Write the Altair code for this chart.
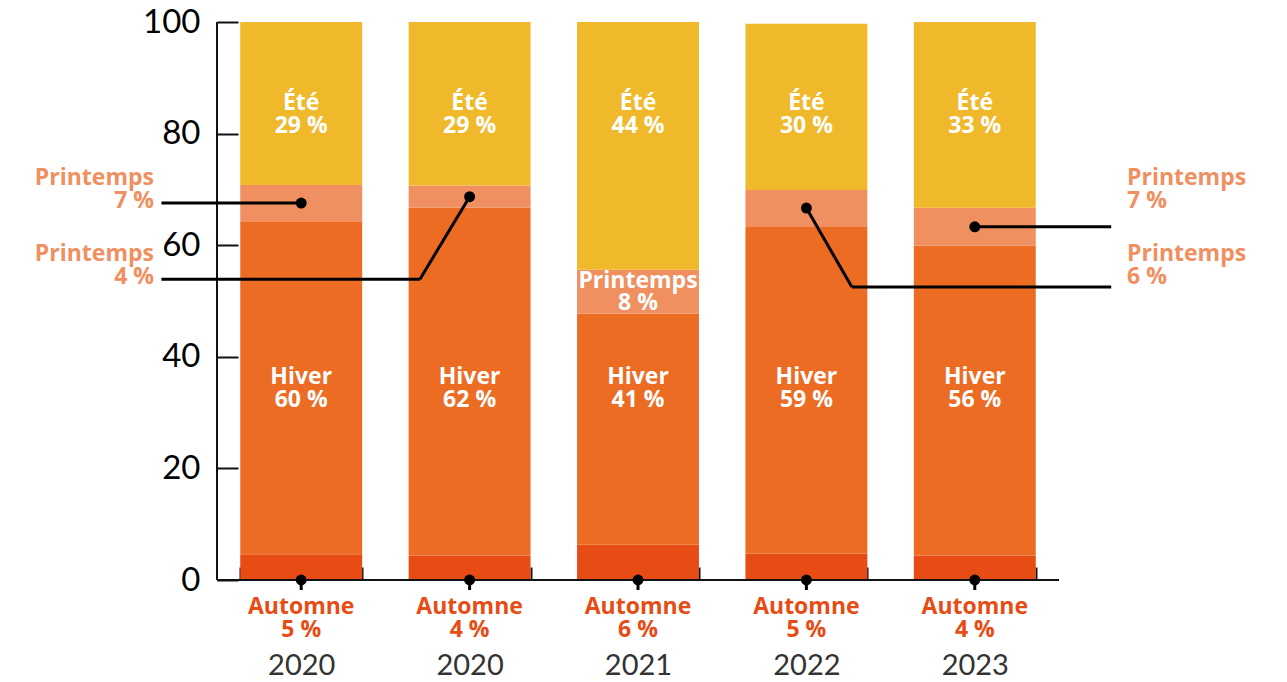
import json
import altair as alt
import pandas as pd

# ---------------- data ----------------
years = ["2020", "2020", "2021", "2022", "2023"]
seasons = ["Automne", "Hiver", "Printemps", "Été"]
automne = [4.6, 4.4, 6.3, 4.7, 4.4]
hiver = [59.7, 62.3, 41.4, 58.7, 55.5]
printemps = [6.5, 4.0, 7.9, 6.5, 6.8]
ete = [29.2, 29.3, 44.4, 29.8, 33.3]
automne_lbl = ["5 %", "4 %", "6 %", "5 %", "4 %"]
hiver_lbl = ["60 %", "62 %", "41 %", "59 %", "56 %"]
printemps_lbl = ["7 %", "4 %", "8 %", "6 %", "7 %"]
ete_lbl = ["29 %", "29 %", "44 %", "30 %", "33 %"]
y_ticks = [0, 20, 40, 60, 80, 100]

# ---------------- layout / style ----------------
W, H = 842, 558
FONT = "Lato"
BFONT = "Open Sans"
BSIZE = 23
LH = 22.5
COLORS = {"Automne": "#E64C13", "Hiver": "#EC6C24", "Printemps": "#F08F5F", "Été": "#F0B92B"}
PR_LAYOUT = {0: ("left", 0), 1: ("left", 1), 3: ("right", 1), 4: ("right", 0)}  # bar -> side,row
ROW_Y = [72.0, 58.4]              # first-line centres of outside labels (data units)
SIDE_X = {"left": -63, "right": 910}  # px
LEADER_END = {"left": -0.33, "right": 5.31}
ELBOW = {1: (1.205, 53.9), 3: (3.77, 52.5)}

n = len(years)
rows = []
for i in range(n):
    start = 0.0
    for s, vals, lbls in zip(seasons, [automne, hiver, printemps, ete],
                             [automne_lbl, hiver_lbl, printemps_lbl, ete_lbl]):
        v = vals[i]
        rows.append(dict(k=i, season=s, start=start, end=start + v, mid=start + v / 2,
                         txt=f"{s}\n{lbls[i]}"))
        start += v
df = pd.DataFrame(rows)

xenc = alt.X(
    "k:O",
    scale=alt.Scale(paddingInner=0.276, paddingOuter=0.138),
    axis=alt.Axis(title=None, labelExpr=f"{json.dumps(years)}[toNumber(datum.value)]",
                  tickBand="extent", tickSize=13, offset=-13, domain=False, labelAngle=0,
                  labelPadding=71, labelFont=FONT, labelFontSize=29, labelColor="#333333",
                  tickColor="#111111", tickWidth=2, grid=False),
)

bars = alt.Chart(df).mark_bar().encode(
    x=xenc,
    y=alt.Y("start:Q", title=None, scale=alt.Scale(domain=[0, 100], nice=False),
            axis=alt.Axis(values=y_ticks, offset=-21, tickSize=21, domain=False,
                          labelPadding=17, labelFont=FONT, labelFontSize=33,
                          labelColor="black", tickColor="#111111", tickWidth=2, grid=False)),
    y2="end:Q",
    color=alt.Color("season:N", scale=alt.Scale(domain=list(COLORS), range=list(COLORS.values())),
                    legend=None),
)

one = pd.DataFrame({"v": [0]})
xline = alt.Chart(one).mark_rule(color="#111111", strokeWidth=2).encode(
    y=alt.datum(0), x=alt.value(0), x2=alt.value(W))
yline = alt.Chart(one).mark_rule(color="#111111", strokeWidth=2).encode(
    x=alt.value(0), y=alt.datum(0), y2=alt.datum(100))

white_txt = dict(color="white", font=BFONT, fontWeight="bold", fontSize=BSIZE,
                 lineBreak="\n", lineHeight=LH, baseline="middle", align="center")

ete_txt = alt.Chart(df[df.season == "Été"]).mark_text(**white_txt).encode(
    x="k:O", y=alt.value(81), text="txt:N")
hiver_txt = alt.Chart(df[df.season == "Hiver"]).mark_text(**white_txt).encode(
    x="k:O", y=alt.value(355), text="txt:N")
pr_in = df[(df.season == "Printemps") & (~df.k.isin(list(PR_LAYOUT)))]
pr_txt = alt.Chart(pr_in).mark_text(dy=-11, **white_txt).encode(
    x="k:O", y=alt.Y("mid:Q", title=None), text="txt:N")

aut = df[df.season == "Automne"]
aut_txt = alt.Chart(aut).mark_text(color="#E64C13", font=BFONT, fontWeight="bold", fontSize=BSIZE,
                                   lineBreak="\n", lineHeight=LH, baseline="middle",
                                   align="center", dy=27).encode(
    x="k:O", y=alt.datum(0), text="txt:N")
aut_dot = alt.Chart(aut).mark_circle(size=120, color="black", opacity=1).encode(
    x="k:O", y=alt.datum(0))
aut_stem = alt.Chart(aut).mark_rule(color="black", strokeWidth=3, y2Offset=10).encode(
    x="k:O", y=alt.datum(0), y2=alt.datum(0))

# outside printemps labels
out_rows = []
for i, (side, row) in PR_LAYOUT.items():
    out_rows.append(dict(side=side, ly=ROW_Y[row], txt=f"Printemps\n{printemps_lbl[i]}"))
out_df = pd.DataFrame(out_rows)
out_style = dict(color="#F08F5F", font=BFONT, fontWeight="bold", fontSize=BSIZE,
                 lineBreak="\n", lineHeight=LH, baseline="middle")
left_txt = alt.Chart(out_df[out_df.side == "left"]).mark_text(align="right", **out_style).encode(
    x=alt.value(SIDE_X["left"]), y=alt.Y("ly:Q", title=None), text="txt:N")
right_txt = alt.Chart(out_df[out_df.side == "right"]).mark_text(align="left", **out_style).encode(
    x=alt.value(SIDE_X["right"]), y=alt.Y("ly:Q", title=None), text="txt:N")

main = alt.layer(bars, xline, yline, ete_txt, hiver_txt, pr_txt, aut_stem, aut_dot, aut_txt,
                 left_txt, right_txt)

# leaders (independent quantitative x over the same width)
lrows = []
p_df = df[df.season == "Printemps"].set_index("k")
for i, (side, row) in PR_LAYOUT.items():
    dx, dy = i + 0.5, float(p_df.loc[i, "mid"])
    ex, ey = ELBOW.get(i, (dx, dy))
    lrows.append(dict(dx=dx, dy=dy, ex=ex, ey=ey, endx=LEADER_END[side]))
ldf = pd.DataFrame(lrows)
xq = alt.X("dx:Q", scale=alt.Scale(domain=[0, n], nice=False, zero=False), axis=None)
seg1 = alt.Chart(ldf).mark_rule(color="black", strokeWidth=3).encode(
    x=xq, y=alt.Y("dy:Q", title=None), x2="ex:Q", y2="ey:Q")
seg2 = alt.Chart(ldf).mark_rule(color="black", strokeWidth=3).encode(
    x=alt.X("ex:Q", axis=None), y=alt.Y("ey:Q", title=None), x2="endx:Q", y2="ey:Q")
ldots = alt.Chart(ldf).mark_circle(size=120, color="black", opacity=1).encode(
    x=alt.X("dx:Q", axis=None), y=alt.Y("dy:Q", title=None))
leaders = alt.layer(seg1, seg2, ldots)

chart = alt.layer(main, leaders).resolve_scale(x="independent").properties(
    width=W, height=H,
    autosize=alt.AutoSizeParams(type="none"),
    padding={"left": 209, "top": 14, "right": 220, "bottom": 102},
).configure_view(stroke=None)

chart.save("out.html", embed_options={"renderer": "svg", "actions": False})
